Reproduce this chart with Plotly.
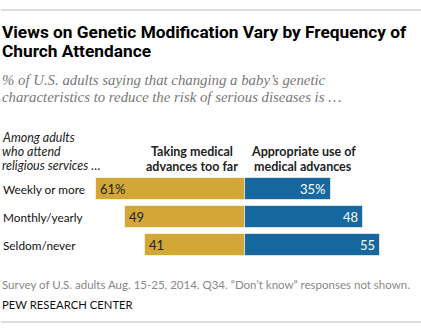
import plotly.graph_objects as go

# Survey results: share of adults by church attendance
categories = ["Weekly or more", "Monthly/yearly", "Seldom/never"]
too_far = [61, 49, 41]
appropriate = [35, 48, 55]
too_far_labels = ["61%", "49", "41"]
appropriate_labels = ["35%", "48", "55"]

W, H = 421, 336
GOLD = "#D3A737"
BLUE = "#16689E"
SANS = "Lato, Roboto, sans-serif"
TITLE_FONT = "Roboto, Arial, sans-serif"
SERIF = "Liberation Serif, DejaVu Serif, serif"

# axis geometry: zero line at x=245 px, 2.447 px per percentage point,
# rows 28 px apart starting at y=189 px
X0, XS = 245.3, 2.447
Y0, YS = 189.0, 28.0
x_range = [-X0 / XS, (W - X0) / XS]
y_range = [(H - Y0) / YS, -Y0 / YS]

ypos = list(range(len(categories)))

fig = go.Figure()
fig.add_trace(go.Bar(
    y=ypos, x=[-v for v in too_far], orientation="h", width=0.78,
    marker=dict(color=GOLD, line=dict(color="rgba(255,255,255,0.6)", width=1)),
    hoverinfo="skip", showlegend=False,
))
fig.add_trace(go.Bar(
    y=ypos, x=appropriate, orientation="h", width=0.78,
    marker=dict(color=BLUE, line=dict(color="rgba(255,255,255,0.6)", width=1)),
    hoverinfo="skip", showlegend=False,
))


def px(x):
    return x / W


def py(y):
    return 1 - y / H


ann = []


def text(x, y, s, size, color="#000", family=SANS, xanchor="left", yanchor="middle"):
    ann.append(dict(x=px(x), y=py(y), xref="paper", yref="paper", text=s,
                    showarrow=False, xanchor=xanchor, yanchor=yanchor, borderpad=0,
                    font=dict(size=size, color=color, family=family)))


# title
text(1, 32, "<b>Views on Genetic Modification Vary by Frequency of</b>", 17.3, family=TITLE_FONT)
text(1, 51, "<b>Church Attendance</b>", 17.3, family=TITLE_FONT)
# subtitle
text(1, 80, "<i>% of U.S. adults saying that changing a baby\u2019s genetic</i>", 14.8, "#777", SERIF)
text(1, 97, "<i>characteristics to reduce the risk of serious diseases is \u2026</i>", 14.8, "#777", SERIF)
# row header
for i, s in enumerate(["Among adults", "who attend", "religious services \u2026"]):
    text(1, 137 + 14 * i, "<i>" + s + "</i>", 12.5, "#222")
# column headers
for i, s in enumerate(["Taking medical", "advances too far"]):
    text(192, 152 + 14 * i, "<b>" + s + "</b>", 12.5, "#222", xanchor="center")
for i, s in enumerate(["Appropriate use of", "medical advances"]):
    text(303, 152 + 14 * i, "<b>" + s + "</b>", 12.5, "#222", xanchor="center")

# category labels and values
for i, c in enumerate(categories):
    ann.append(dict(x=0.003, y=i, xref="paper", yref="y", text=c, showarrow=False,
                    xanchor="left", font=dict(size=11.8, color="#111", family=SANS)))
    ann.append(dict(x=-too_far[i], y=i, xref="x", yref="y", text=too_far_labels[i],
                    showarrow=False, xanchor="left", xshift=2,
                    font=dict(size=13, color="#222", family=SANS)))
    ann.append(dict(x=appropriate[i], y=i, xref="x", yref="y", text=appropriate_labels[i],
                    showarrow=False, xanchor="right", xshift=-3,
                    font=dict(size=13, color="white", family=SANS)))

# footer
text(1, 284, "Survey of U.S. adults Aug. 15-25, 2014. Q34. \u201cDon\u2019t know\u201d responses not shown.",
     11.5, "#888")
text(1, 304, "PEW RESEARCH CENTER", 11.3, "#111")

shapes = [
    dict(type="line", xref="paper", yref="paper", x0=px(1), x1=px(421), y0=py(10), y1=py(10),
         line=dict(color="#bbb", width=1)),
    dict(type="line", xref="paper", yref="paper", x0=px(1), x1=px(421), y0=py(322), y1=py(322),
         line=dict(color="#bbb", width=1)),
]

fig.update_layout(
    width=W, height=H, margin=dict(l=0, r=0, t=0, b=0),
    paper_bgcolor="white", plot_bgcolor="white",
    barmode="relative", bargap=0,
    xaxis=dict(range=x_range, visible=False, fixedrange=True),
    yaxis=dict(range=y_range, visible=False, fixedrange=True),
    annotations=ann, shapes=shapes,
)

fig.write_html("out.html")
